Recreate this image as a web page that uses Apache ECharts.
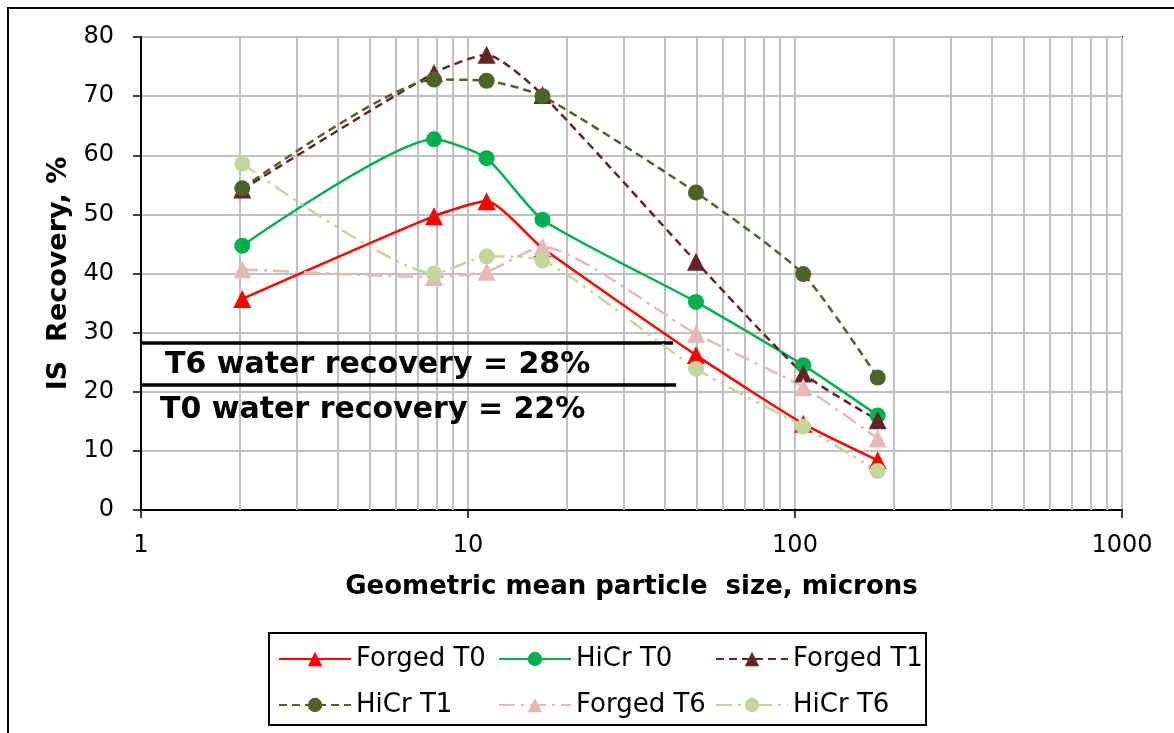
<!DOCTYPE html>
<html>
<head>
<meta charset="utf-8">
<script src="https://cdn.jsdelivr.net/npm/echarts@6/dist/echarts.min.js"></script>
<style>html,body{margin:0;padding:0;background:#fff;}#chart{width:1174px;height:733px;}</style>
</head>
<body>
<div id="chart"></div>
<script>
// ---- data ----
const sizes = [2.04, 7.87, 11.4, 16.9, 49.8, 106, 179];
const forgedT0 = [35.7, 49.7, 52.2, 44.3, 26.2, 14.6, 8.4];
const hicrT0   = [44.7, 62.7, 59.5, 49.1, 35.2, 24.5, 16.0];
const forgedT1 = [54.2, 73.9, 77.0, 70.2, 42.0, 23.1, 15.2];
const hicrT1   = [54.4, 72.8, 72.6, 70.0, 53.7, 39.9, 22.4];
const forgedT6 = [40.7, 39.4, 40.3, 44.5, 29.8, 20.8, 12.1];
const hicrT6   = [58.6, 40.0, 42.9, 42.2, 23.9, 14.1, 6.6];
const seriesNames = ['Forged T0', 'HiCr T0', 'Forged T1', 'HiCr T1', 'Forged T6', 'HiCr T6'];
const minorGrid = [2,3,4,5,6,7,8,9,20,30,40,50,60,70,80,90,200,300,400,500,600,700,800,900];
const waterLabels = ['T6 water recovery = 28%', 'T0 water recovery = 22%'];
const waterLineT6 = 28.3, waterLineT0 = 21.1;
const waterLineEndT6 = 42.4, waterLineEndT0 = 43.3;
const yTicks = {min: 0, max: 80, interval: 10};
const xRange = {min: 1, max: 1000};

const chart = echarts.init(document.getElementById('chart'), null, {renderer: 'canvas'});
const FONT = 'DejaVu Sans';
function pairs(vals) { return sizes.map((s, i) => [s, vals[i]]); }

function mk(name, vals, color, symbol, size, dash) {
  return {
    name: name, type: 'line', data: pairs(vals), smooth: 0.2,
    symbol: symbol, symbolSize: size, z: 5,
    lineStyle: {color: color, width: 2.5, type: dash},
    itemStyle: {color: color},
    emphasis: {disabled: true}
  };
}

const option = {
  animation: false,
  backgroundColor: '#fff',
  textStyle: {fontFamily: FONT},
  grid: {left: 141, right: 52, top: 37, bottom: 223, show: true, borderColor: '#000', borderWidth: 2, backgroundColor: 'transparent'},
  xAxis: {
    type: 'log', logBase: 10, min: xRange.min, max: xRange.max,
    name: 'Geometric mean particle  size, microns', nameLocation: 'middle', nameGap: 64,
    nameTextStyle: {fontFamily: FONT, fontSize: 26, fontWeight: 'bold', color: '#000'},
    axisLine: {show: true, lineStyle: {color: '#000', width: 2}},
    axisTick: {show: true, inside: false, length: 8, lineStyle: {color: '#000', width: 1.5}},
    axisLabel: {fontFamily: FONT, fontSize: 24, color: '#000', margin: 24, formatter: v => String(Math.round(v))},
    splitLine: {show: true, lineStyle: {color: '#C0C0C0', width: 2}},
    minorTick: {show: false}, minorSplitLine: {show: false}
  },
  yAxis: {
    type: 'value', min: yTicks.min, max: yTicks.max, interval: yTicks.interval,
    name: 'IS  Recovery, %', nameLocation: 'middle', nameGap: 63, nameRotate: 90,
    nameTextStyle: {fontFamily: FONT, fontSize: 27, fontWeight: 'bold', color: '#000'},
    axisLine: {show: true, lineStyle: {color: '#000', width: 2}},
    axisTick: {show: true, inside: false, length: 8, lineStyle: {color: '#000', width: 1.5}},
    axisLabel: {fontFamily: FONT, fontSize: 24, color: '#000', margin: 27},
    splitLine: {show: true, lineStyle: {color: '#C0C0C0', width: 2}}
  },
  legend: [
    {data: ['Forged T0', 'HiCr T1'], left: 278, top: 646},
    {data: ['HiCr T0', 'Forged T6'], left: 498, top: 646},
    {data: ['Forged T1', 'HiCr T6'], left: 715, top: 646}
  ].map(l => Object.assign({
    orient: 'vertical', itemWidth: 72, itemHeight: 18, itemGap: 20, padding: 0,
    textStyle: {fontFamily: FONT, fontSize: 26, color: '#000', padding: [0,0,0,0]},
    selectedMode: false
  }, l)),
  series: [
    {
      name: '_grid', type: 'line', data: [], z: 1, silent: true,
      markLine: {
        silent: true, symbol: 'none', animation: false,
        label: {show: false},
        lineStyle: {color: '#C0C0C0', width: 2, type: 'solid'},
        data: minorGrid.map(v => ({xAxis: v}))
      }
    },
    mk(seriesNames[0], forgedT0, '#FF0000', 'triangle', 18, 'solid'),
    mk(seriesNames[1], hicrT0, '#00B050', 'circle', 16, 'solid'),
    mk(seriesNames[2], forgedT1, '#632523', 'triangle', 18, [8, 5]),
    mk(seriesNames[3], hicrT1, '#4F6228', 'circle', 16, [8, 5]),
    mk(seriesNames[4], forgedT6, '#E6B9B8', 'triangle', 18, [16, 6, 3, 6]),
    mk(seriesNames[5], hicrT6, '#C3D69B', 'circle', 16, [16, 6, 3, 6, 3, 6]),
    {
      name: '_water', type: 'line', data: [], z: 6, silent: true,
      markLine: {
        silent: true, symbol: 'none', animation: false,
        label: {show: false},
        lineStyle: {color: '#000', width: 3.5, type: 'solid'},
        data: [
          [{coord: [xRange.min, waterLineT6]}, {coord: [waterLineEndT6, waterLineT6]}],
          [{coord: [xRange.min, waterLineT0]}, {coord: [waterLineEndT0, waterLineT0]}]
        ]
      }
    }
  ],
  graphic: [
    {type: 'rect', shape: {x: 8, y: 8, width: 1200, height: 800}, style: {fill: 'none', stroke: '#000', lineWidth: 2}, silent: true, z: 0},
    {type: 'rect', shape: {x: 269, y: 633, width: 657, height: 92}, style: {fill: 'none', stroke: '#000', lineWidth: 2}, silent: true, z: 10},
    {type: 'text', x: 165, y: 350, style: {text: waterLabels[0], font: 'bold 30px "DejaVu Sans"', fill: '#000'}, z: 10},
    {type: 'text', x: 160, y: 395, style: {text: waterLabels[1], font: 'bold 30px "DejaVu Sans"', fill: '#000'}, z: 10}
  ]
};
chart.setOption(option);
</script>
</body>
</html>
